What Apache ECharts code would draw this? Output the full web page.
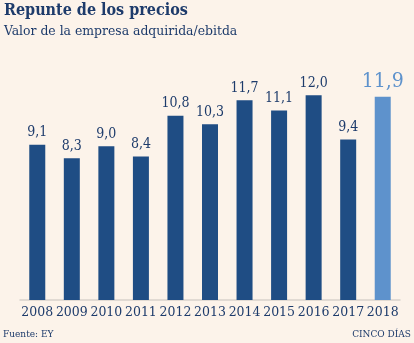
<!DOCTYPE html>
<html><head><meta charset="utf-8">
<script src="https://cdn.jsdelivr.net/npm/echarts@6/dist/echarts.min.js"></script>
<style>html,body{margin:0;padding:0;background:#fcf3ea}#c{width:414px;height:343px}</style>
</head><body><div id="c"></div>
<script>
const categories = ['2008','2009','2010','2011','2012','2013','2014','2015','2016','2017','2018'];
const values = [9.1, 8.3, 9.0, 8.4, 10.8, 10.3, 11.7, 11.1, 12.0, 9.4, 11.9];
const highlightIndex = 10;
const title = 'Repunte de los precios';
const subtitle = 'Valor de la empresa adquirida/ebitda';
const source = 'Fuente: EY';
const brand = 'CINCO DÍAS';

const serif = '"DejaVu Serif", "Liberation Serif", serif';
const cserif = '"DejaVu Serif Condensed", "DejaVu Serif", serif';
const dark = '#1f4d84', light = '#5e92cc', text = '#1d3b6b';
const fmt = v => v.toFixed(1).replace('.', ',');

const chart = echarts.init(document.getElementById('c'), null, {renderer:'canvas'});
chart.setOption({
  backgroundColor: '#fcf3ea',
  animation: false,
  graphic: [
    {type:'text', left:4, top:2, scaleX:0.94, style:{text:title, font:'bold 17px '+cserif, fill:text}},
    {type:'text', left:4, top:24, style:{text:subtitle, font:'13.8px '+cserif, fill:text}},
    {type:'text', left:3, top:329, style:{text:source, font:'10px '+cserif, fill:text}},
    {type:'text', right:3, top:329, style:{text:brand, font:'10px '+cserif, fill:text}}
  ],
  grid: {left:20, right:14, top:61, bottom:43},
  xAxis: {
    type:'category', data:categories,
    axisLine:{lineStyle:{color:'#d8d2cc', width:1.5}},
    axisTick:{show:false},
    axisLabel:{color:text, fontFamily:serif, fontSize:12.5, margin:6, interval:0}
  },
  yAxis: {type:'value', min:0, max:14, show:false, splitLine:{show:false}},
  series: [{
    type:'bar', barWidth:16,
    data: values.map((v,i)=>({
      value:v,
      itemStyle:{color: i===highlightIndex ? light : dark},
      label:{
        show:true, position:'top', distance:5,
        formatter: p => fmt(p.value),
        color: i===highlightIndex ? light : text,
        fontFamily: cserif,
        fontSize: i===highlightIndex ? 21 : 14
      }
    }))
  }]
});
</script></body></html>
